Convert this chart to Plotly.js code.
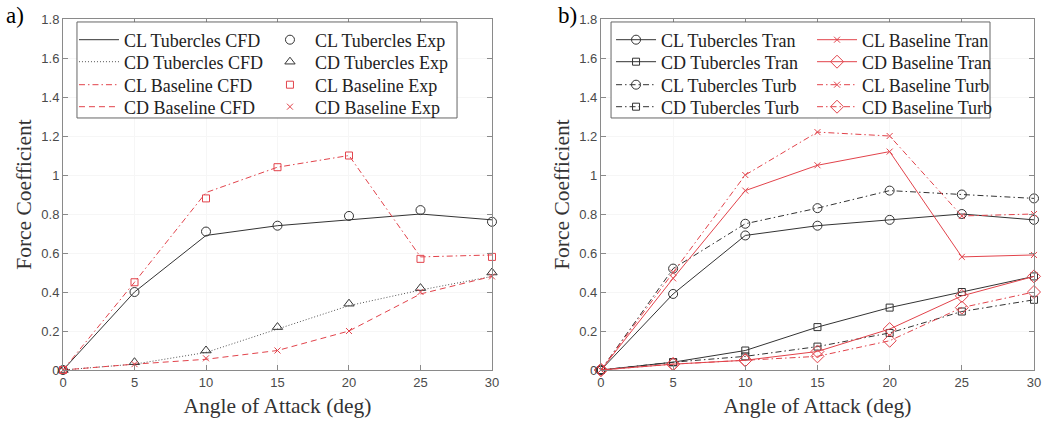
<!DOCTYPE html>
<html>
<head>
<meta charset="utf-8">
<script src="https://cdn.plot.ly/plotly-3.0.1.min.js"></script>
<style>html,body{margin:0;padding:0;background:#fff;}#chart{width:1064px;height:423px;}</style>
</head>
<body>
<div id="chart"></div>
<script>
// ---- data ----
const aoa = [0, 5, 10, 15, 20, 25, 30];
const xTicks = [0, 5, 10, 15, 20, 25, 30];

// panel a)
const clTubCFD  = [0, 0.40, 0.69, 0.74, 0.77, 0.80, 0.77];
const cdTubCFD  = [0, 0.03, 0.09, 0.21, 0.33, 0.41, 0.48];
const clBaseCFD = [0, 0.45, 0.91, 1.04, 1.10, 0.58, 0.59];
const cdBaseCFD = [0, 0.03, 0.055, 0.10, 0.20, 0.39, 0.48];
const clTubExp  = [0, 0.40, 0.71, 0.74, 0.79, 0.82, 0.76];
const cdTubExp  = [0, 0.04, 0.10, 0.22, 0.34, 0.42, 0.50];
const clBaseExp = [0, 0.45, 0.88, 1.04, 1.10, 0.57, 0.58];
const cdBaseExp = [0, 0.03, 0.06, 0.10, 0.20, 0.40, 0.48];

// panel b)
const clTubTran  = [0, 0.39, 0.69, 0.74, 0.77, 0.80, 0.77];
const cdTubTran  = [0, 0.04, 0.10, 0.22, 0.32, 0.40, 0.48];
const clTubTurb  = [0, 0.52, 0.75, 0.83, 0.92, 0.90, 0.88];
const cdTubTurb  = [0, 0.04, 0.07, 0.12, 0.19, 0.30, 0.36];
const clBaseTran = [0, 0.47, 0.92, 1.05, 1.12, 0.58, 0.59];
const cdBaseTran = [0, 0.03, 0.05, 0.095, 0.21, 0.38, 0.48];
const clBaseTurb = [0, 0.50, 1.00, 1.22, 1.20, 0.79, 0.80];
const cdBaseTurb = [0, 0.03, 0.05, 0.07, 0.15, 0.32, 0.40];

// ---- styles ----
const BLK = '#333333';
const RED = '#e2434b';
const DASHDOT = '6px,3px,1.5px,3px';
const DOTTED = '1px,2px';
const DASHED = '6px,4px';

function tr(name, y, xa, ya, legend, mode, color, dash, symbol, msize) {
  const t = {
    type: 'scatter', x: aoa, y: y, name: name, xaxis: xa, yaxis: ya,
    legend: legend, mode: mode, cliponaxis: false,
    line: {color: color, width: 1, dash: dash || 'solid'},
    hoverinfo: 'x+y+name'
  };
  if (symbol) {
    t.marker = {symbol: symbol, size: msize || 8, color: color,
                line: {color: color, width: 1}};
  }
  return t;
}

const data = [
  // panel a) column 1 (lines)
  tr('CL Tubercles CFD', clTubCFD, 'x', 'y', 'legend', 'lines', BLK, 'solid'),
  tr('CD Tubercles CFD', cdTubCFD, 'x', 'y', 'legend2', 'lines', '#555', DOTTED),
  tr('CL Baseline CFD', clBaseCFD, 'x', 'y', 'legend3', 'lines', RED, DASHDOT),
  tr('CD Baseline CFD', cdBaseCFD, 'x', 'y', 'legend4', 'lines', RED, DASHED),
  // panel a) column 2 (markers)
  tr('CL Tubercles Exp', clTubExp, 'x', 'y', 'legend5', 'markers', BLK, null, 'circle-open', 9),
  tr('CD Tubercles Exp', cdTubExp, 'x', 'y', 'legend6', 'markers', BLK, null, 'triangle-up-open', 9),
  tr('CL Baseline Exp', clBaseExp, 'x', 'y', 'legend7', 'markers', RED, null, 'square-open', 7),
  tr('CD Baseline Exp', cdBaseExp, 'x', 'y', 'legend8', 'markers', RED, null, 'x-thin-open', 6),
  // panel b) column 1
  tr('CL Tubercles Tran', clTubTran, 'x2', 'y2', 'legend9', 'lines+markers', BLK, 'solid', 'circle-open', 9),
  tr('CD Tubercles Tran', cdTubTran, 'x2', 'y2', 'legend10', 'lines+markers', BLK, 'solid', 'square-open', 7),
  tr('CL Tubercles Turb', clTubTurb, 'x2', 'y2', 'legend11', 'lines+markers', BLK, DASHDOT, 'circle-open', 9),
  tr('CD Tubercles Turb', cdTubTurb, 'x2', 'y2', 'legend12', 'lines+markers', BLK, DASHDOT, 'square-open', 7),
  // panel b) column 2
  tr('CL Baseline Tran', clBaseTran, 'x2', 'y2', 'legend13', 'lines+markers', RED, 'solid', 'x-thin-open', 6),
  tr('CD Baseline Tran', cdBaseTran, 'x2', 'y2', 'legend14', 'lines+markers', RED, 'solid', 'diamond-open', 10),
  tr('CL Baseline Turb', clBaseTurb, 'x2', 'y2', 'legend15', 'lines+markers', RED, DASHDOT, 'x-thin-open', 6),
  tr('CD Baseline Turb', cdBaseTurb, 'x2', 'y2', 'legend16', 'lines+markers', RED, DASHDOT, 'diamond-open', 10)
];

const AX_COL = '#8a8a8a';
const tickFont = {family: 'Liberation Sans, Arial, sans-serif', size: 13, color: '#4a4a4a'};
const titleFont = {family: 'Liberation Serif, Times New Roman, serif', size: 21.5, color: '#333'};

function xAxis(domain) {
  return {
    domain: domain, range: [0, 30], tickvals: xTicks, ticktext: xTicks.map(String),
    ticks: 'inside', ticklen: 5, tickcolor: AX_COL, mirror: 'ticks',
    showline: true, linecolor: AX_COL, linewidth: 1,
    showgrid: true, gridcolor: '#f6f6f6', zeroline: false,
    tickfont: tickFont, fixedrange: true,
    title: {text: 'Angle of Attack (deg)', font: titleFont, standoff: 9}
  };
}
function yAxis(anchor) {
  return {
    anchor: anchor, range: [0, 1.8], dtick: 0.2, tick0: 0,
    ticks: 'inside', ticklen: 5, tickcolor: AX_COL, mirror: 'ticks',
    showline: true, linecolor: AX_COL, linewidth: 1,
    showgrid: true, gridcolor: '#f6f6f6', zeroline: false,
    tickfont: tickFont, fixedrange: true,
    title: {text: 'Force Coefficient', font: titleFont, standoff: 3}
  };
}

const legFont = {family: 'Liberation Serif, Times New Roman, serif', size: 18, color: '#222'};
function leg(x, y) {
  return {x: x, y: y, xanchor: 'left', yanchor: 'middle', orientation: 'v',
          bgcolor: 'rgba(0,0,0,0)', borderwidth: 0, font: legFont,
          itemwidth: 40, tracegroupgap: 0, traceorder: 'normal'};
}

// legend grid positions (paper coords)
const rowY = [0.9402, 0.8775, 0.812, 0.7493];
const colX = [0.0113, 0.2080, 0.5644, 0.7714];

const layout = {
  width: 1064, height: 423,
  margin: {l: 63, r: 30, t: 19, b: 53},
  paper_bgcolor: '#fff', plot_bgcolor: '#fff',
  showlegend: true,
  xaxis: xAxis([0, 0.4418]),
  yaxis: yAxis('x'),
  xaxis2: Object.assign(xAxis([0.554, 1]), {anchor: 'y2'}),
  yaxis2: yAxis('x2'),
  shapes: [
    {type: 'rect', xref: 'paper', yref: 'paper', x0: 0.0144, x1: 0.4058, y0: 0.718, y1: 0.9915,
     line: {color: '#666', width: 1}, fillcolor: '#fff', layer: 'above'},
    {type: 'rect', xref: 'paper', yref: 'paper', x0: 0.5644, x1: 0.9547, y0: 0.718, y1: 0.9915,
     line: {color: '#666', width: 1}, fillcolor: '#fff', layer: 'above'}
  ],
  annotations: [
    {text: 'a)', xref: 'paper', yref: 'paper', x: -0.0607, y: 1.05, xanchor: 'left', yanchor: 'top',
     showarrow: false, font: {family: 'Liberation Serif, Times New Roman, serif', size: 23, color: '#000'}},
    {text: 'b)', xref: 'paper', yref: 'paper', x: 0.5077, y: 1.05, xanchor: 'left', yanchor: 'top',
     showarrow: false, font: {family: 'Liberation Serif, Times New Roman, serif', size: 23, color: '#000'}}
  ]
};
// one legend per entry, arranged as a 2-column grid in each panel
for (let c = 0; c < 4; c++) {
  for (let r = 0; r < 4; r++) {
    const n = c * 4 + r + 1;
    layout[n === 1 ? 'legend' : 'legend' + n] = leg(colX[c], rowY[r]);
  }
}

Plotly.newPlot('chart', data, layout, {displayModeBar: false, staticPlot: true});
</script>
</body>
</html>
